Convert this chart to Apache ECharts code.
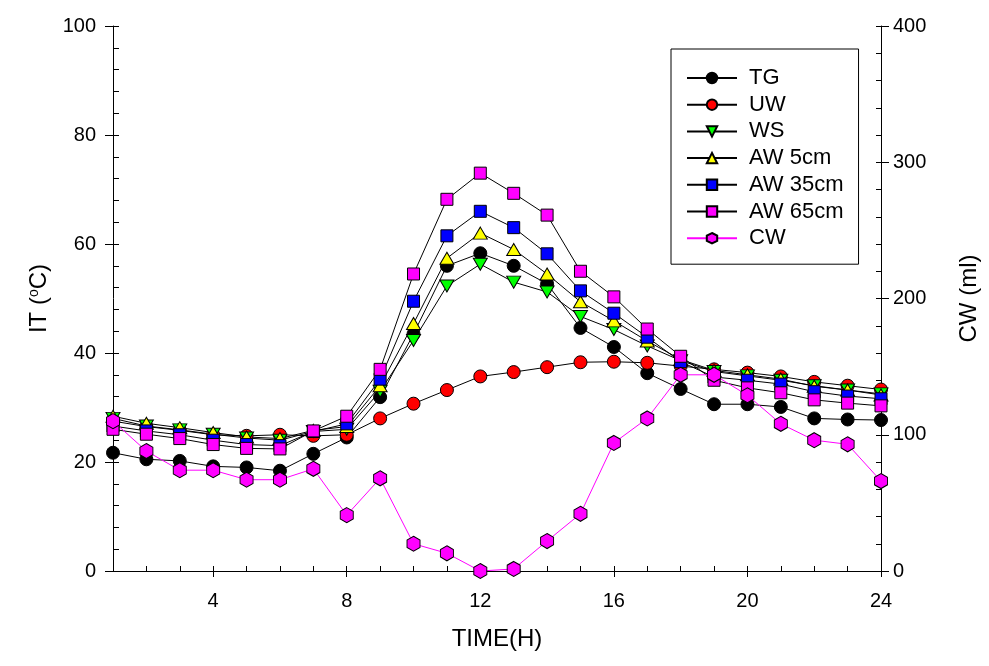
<!DOCTYPE html>
<html>
<head>
<meta charset="utf-8">
<script src="https://cdn.jsdelivr.net/npm/echarts@6/dist/echarts.min.js"></script>
<style>html,body{margin:0;padding:0;background:#fff;}#c{width:989px;height:666px;}</style>
</head>
<body>
<div id="c"></div>
<script>
var hours = [1,2,3,4,5,6,7,8,9,10,11,12,13,14,15,16,17,18,19,20,21,22,23,24];
var xTicks = [4,8,12,16,20,24];
var TG   = [21.7,20.5,20.2,19.2,19.0,18.4,21.5,24.5,31.9,43.5,56.0,58.3,56.0,52.7,44.6,41.1,36.3,33.4,30.6,30.6,30.1,28.0,27.8,27.7];
var UW   = [27.5,26.5,25.8,25.0,24.8,25.0,24.8,25.0,28.0,30.7,33.2,35.7,36.5,37.4,38.3,38.4,38.2,37.6,37.0,36.4,35.7,34.7,34.0,33.3];
var WS   = [28.0,26.6,25.9,25.1,24.4,24.0,25.6,26.0,33.0,42.3,52.3,56.3,53.0,51.2,46.7,44.3,41.3,38.6,36.6,35.8,35.0,34.0,33.2,32.5];
var AW5  = [28.4,27.1,26.3,25.4,24.6,24.3,25.8,26.5,34.0,45.4,57.4,62.0,59.0,54.5,49.4,45.9,42.2,38.8,36.8,36.0,35.2,33.9,33.2,32.3];
var AW35 = [26.6,25.7,25.0,24.0,23.2,23.0,25.6,27.0,35.2,49.5,61.5,66.0,63.0,58.2,51.4,47.3,42.9,38.4,35.6,35.0,34.3,32.9,32.1,31.6];
var AW65 = [26.0,25.1,24.3,23.2,22.5,22.4,25.7,28.4,37.0,54.5,68.2,73.0,69.3,65.3,55.0,50.3,44.4,39.4,35.0,33.6,32.7,31.4,30.8,30.3];
var CW   = [110,88,74,74,67,67,75,41,68,20,13,0,1.5,22,42,94,112,144,144,129,108,96,93,66];

function pairs(arr){ return hours.map(function(h,i){ return [h, arr[i]]; }); }

var FONT = 'Liberation Sans, Arial, sans-serif';
var DOWN_TRI = 'path://M0,0 L2,0 L1,1.732 Z';
var HEX = 'path://M0.866,0 L1.732,0.5 L1.732,1.5 L0.866,2 L0,1.5 L0,0.5 Z';

function mk(name, data, symbol, size, color, lineColor, yIndex){
  return {
    name: name, type: 'line', data: pairs(data), yAxisIndex: yIndex || 0,
    symbol: symbol, symbolSize: size, showAllSymbol: true,
    lineStyle: {color: lineColor, width: 1},
    itemStyle: {color: color, borderColor: '#000', borderWidth: 1},
    emphasis: {disabled: true}
  };
}

var chart = echarts.init(document.getElementById('c'), null, {renderer: 'canvas'});
chart.setOption({
  animation: false,
  backgroundColor: '#fff',
  textStyle: {fontFamily: FONT},
  grid: {left: 113, right: 108, top: 26, bottom: 95},
  legend: {
    orient: 'vertical', left: 671, top: 49,
    padding: [18, 15, 15, 15],
    itemWidth: 50, itemHeight: 13, itemGap: 4.7,
    borderColor: '#000', borderWidth: 1,
    textStyle: {fontSize: 22, color: '#000', fontFamily: FONT, lineHeight: 21, padding: [0,0,0,7]},
    data: ['TG','UW','WS','AW 5cm','AW 35cm','AW 65cm','CW']
  },
  xAxis: [{
    type: 'value', min: 1, max: 24,
    name: 'TIME(H)', nameLocation: 'middle', nameGap: 56,
    nameTextStyle: {fontSize: 24, color: '#000', fontFamily: FONT},
    axisLine: {show: true, lineStyle: {color: '#000', width: 1}},
    axisTick: {show: true, length: 6, inside: false, customValues: xTicks, lineStyle: {color: '#000'}},
    axisLabel: {customValues: xTicks, fontSize: 20, color: '#000', margin: 20, fontFamily: FONT},
    splitLine: {show: false}
  }, {
    type: 'value', min: 1, max: 24, interval: 1, position: 'bottom',
    axisLine: {show: false},
    axisTick: {show: true, inside: true, length: 5, lineStyle: {color: '#000'}},
    axisLabel: {show: false},
    splitLine: {show: false}
  }],
  yAxis: [{
    type: 'value', min: 0, max: 100, interval: 20, position: 'left',
    name: 'IT ({sup|o}C)', nameLocation: 'middle', nameGap: 60,
    nameTextStyle: {fontSize: 24, color: '#000', fontFamily: FONT,
      rich: {sup: {fontSize: 14, color: '#000', fontFamily: FONT, padding: [0,0,12,0]}}},
    axisLine: {show: true, lineStyle: {color: '#000', width: 1}},
    axisTick: {show: true, length: 8, inside: false, lineStyle: {color: '#000'}},
    axisLabel: {fontSize: 20, color: '#000', margin: 17, fontFamily: FONT},
    splitLine: {show: false}
  }, {
    type: 'value', min: 0, max: 400, interval: 100, position: 'right',
    name: 'CW (ml)', nameLocation: 'middle', nameGap: 76,
    nameTextStyle: {fontSize: 24, color: '#000', fontFamily: FONT},
    axisLine: {show: true, lineStyle: {color: '#000', width: 1}},
    axisTick: {show: true, length: 8, inside: false, lineStyle: {color: '#000'}},
    axisLabel: {fontSize: 20, color: '#000', margin: 12, fontFamily: FONT},
    splitLine: {show: false}
  }, {
    type: 'value', min: 0, max: 100, interval: 4, position: 'left',
    axisLine: {show: false},
    axisTick: {show: true, inside: true, length: 6, lineStyle: {color: '#000'}},
    axisLabel: {show: false}, splitLine: {show: false}
  }, {
    type: 'value', min: 0, max: 400, interval: 20, position: 'right',
    axisLine: {show: false},
    axisTick: {show: true, inside: true, length: 5, lineStyle: {color: '#000'}},
    axisLabel: {show: false}, splitLine: {show: false}
  }],
  series: [
    mk('TG', TG, 'circle', 13, '#000000', '#000'),
    mk('UW', UW, 'circle', 13, '#ff0000', '#000'),
    mk('WS', WS, DOWN_TRI, [14,12], '#00ff00', '#000'),
    mk('AW 5cm', AW5, 'triangle', [14,12], '#ffff00', '#000'),
    mk('AW 35cm', AW35, 'rect', 12, '#0000ff', '#000'),
    mk('AW 65cm', AW65, 'rect', 12, '#ff00ff', '#000'),
    mk('CW', CW, HEX, [13,15], '#ff00ff', '#ff00ff', 1)
  ]
});
</script>
</body>
</html>
